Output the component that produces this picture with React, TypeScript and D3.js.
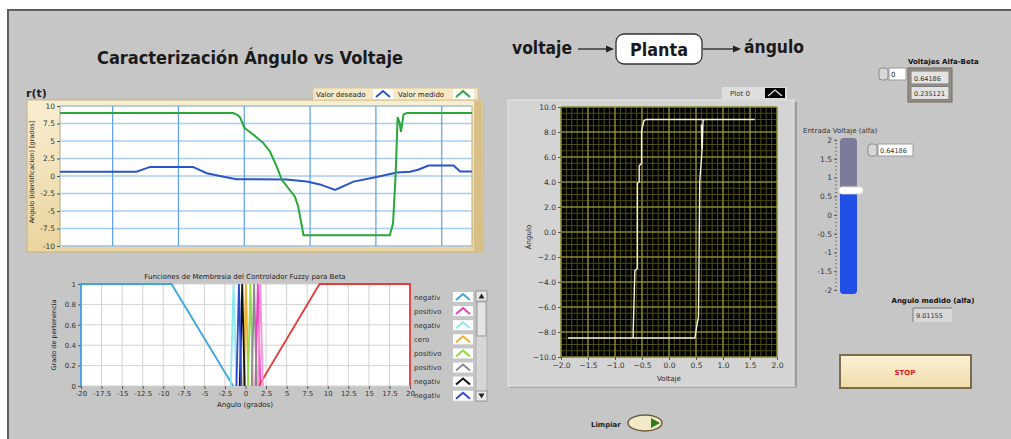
import React, { useEffect, useRef } from 'react';
import * as d3 from 'd3';

// r(t): angulo deseado y medido (eje x = muestra)
const deseadoT = [220, 336, 357, 422, 443, 463, 488, 564, 595, 615, 638, 666, 701, 732, 752, 764, 780, 818, 828, 846];
const deseadoY = [0.6, 0.6, 1.3, 1.3, 0.4, 0.0, -0.45, -0.5, -0.8, -1.2, -2.0, -0.8, -0.15, 0.5, 0.6, 0.9, 1.5, 1.5, 0.65, 0.65];
const medidoT = [220, 483, 490, 494, 500, 514, 529, 539, 549, 557, 565, 577, 582, 590, 721, 726, 730, 733, 736, 738, 742, 747, 846];
const medidoY = [9, 9, 8.7, 8.3, 6.9, 5.9, 4.7, 3.5, 1.4, -0.55, -1.5, -2.95, -4.4, -8.45, -8.45, -6.8, 0.3, 8.4, 7.6, 6.3, 8.8, 9, 9];
const rtTicks = [10, 7.5, 5, 2.5, 0, -2.5, -5, -7.5, -10];

// funciones de membresia del controlador fuzzy (beta)
const mfNombres = ['negativ', 'positivo', 'negativ', 'cero', 'positivo', 'positivo', 'negativ', 'negativ', 'positivo', 'positivo'];
const mfColores = ['#3ea6dc', '#ee3fc4', '#8ae8f0', '#f0b02c', '#92de3e', '#8a8a8a', '#121212', '#2c4ccc', '#e83a3a', '#ff8fd6'];
const mfX = [
  [-20, -20, -9, -1.5],
  [1.2, 1.5, 1.8],
  [-1.8, -1.45, -1.1],
  [-0.25, 0.05, 0.35],
  [0.3, 0.6, 0.9],
  [0.75, 1.05, 1.35],
  [-0.7, -0.4, -0.1],
  [-1.1, -0.8, -0.5],
  [1.6, 9, 20, 20],
  [1.5, 1.8, 2.1],
];
const mfY = [
  [0, 1, 1, 0],
  [0, 1, 0],
  [0, 1, 0],
  [0, 1, 0],
  [0, 1, 0],
  [0, 1, 0],
  [0, 1, 0],
  [0, 1, 0],
  [0, 1, 1, 0],
  [0, 1, 0],
];
const mfXTicks = [-20, -17.5, -15, -12.5, -10, -7.5, -5, -2.5, 0, 2.5, 5, 7.5, 10, 12.5, 15, 17.5, 20];
const mfYTicks = [0, 0.2, 0.4, 0.6, 0.8, 1];

// grafica XY: angulo vs voltaje (histeresis)
const voltaje = [-1.87, 0.48, 0.51, 0.546, 0.57, 0.61, 0.6, 0.615, 0.63, 0.66, 1.59, -0.42, -0.465, -0.508, -0.508, -0.552, -0.552, -0.585, -0.585, -0.632, -0.663, -0.663, -1.87];
const angulo = [-8.48, -8.48, -7.6, -6.8, 4.1, 6.4, 8.6, 6.6, 8.9, 9.0, 9.0, 9.0, 8.9, 8.1, 5.5, 5.3, 4.0, 3.9, -2.9, -3.1, -8.0, -8.48, -8.48];
const xyXTicks = [-2, -1.5, -1, -0.5, 0, 0.5, 1, 1.5, 2];
const xyYTicks = [-10, -8, -6, -4, -2, 0, 2, 4, 6, 8, 10];

// controles
const sliderTicks = [2, 1.5, 1, 0.5, 0, -0.5, -1, -1.5, -2];
const entradaVoltaje = 0.64186;
const voltajesAlfaBeta = ['0.64186', '0.235121'];
const anguloMedido = '9.01155';

const FONT = '"DejaVu Sans", Verdana, sans-serif';
const BOLD = '"DejaVu Sans Condensed", "DejaVu Sans", sans-serif';

function App() {
  const svgRef = useRef<SVGSVGElement>(null);

  useEffect(() => {
    const svg = d3.select(svgRef.current);
    svg.selectAll('*').remove();

    const txt = (x: number, y: number, s: string, size: number, o: any = {}) =>
      svg.append('text')
        .attr('x', x).attr('y', y)
        .attr('font-size', size)
        .attr('font-family', o.family || FONT)
        .attr('font-weight', o.weight || 'normal')
        .attr('text-anchor', o.anchor || 'start')
        .attr('fill', o.fill || '#222')
        .text(s);

    const styleAxis = (g: any, size = 7.5) => {
      g.select('.domain').remove();
      g.selectAll('text').attr('font-size', size).attr('font-family', FONT).attr('fill', '#333');
      g.selectAll('line').attr('stroke', '#555');
    };

    const caret = (cx: number, cy: number, color: string, w = 2) =>
      svg.append('path')
        .attr('d', `M${cx - 7},${cy + 3} L${cx},${cy - 3} L${cx + 7},${cy + 3}`)
        .attr('fill', 'none').attr('stroke', color).attr('stroke-width', w);

    const defs = svg.append('defs');
    const tan = defs.append('linearGradient').attr('id', 'tan').attr('x1', 0).attr('y1', 0).attr('x2', 0).attr('y2', 1);
    tan.append('stop').attr('offset', '0%').attr('stop-color', '#f8eed2');
    tan.append('stop').attr('offset', '100%').attr('stop-color', '#ead49e');
    const btn = defs.append('linearGradient').attr('id', 'btn').attr('x1', 0).attr('y1', 0).attr('x2', 0).attr('y2', 1);
    btn.append('stop').attr('offset', '0%').attr('stop-color', '#fbf1d4');
    btn.append('stop').attr('offset', '100%').attr('stop-color', '#efdcac');

    // fondo del panel
    svg.append('rect').attr('width', 1011).attr('height', 439).attr('fill', '#ffffff');
    svg.append('rect').attr('x', 8).attr('y', 10).attr('width', 1012).attr('height', 440)
      .attr('fill', '#c6c6c6').attr('stroke', '#5f5f5f').attr('stroke-width', 2);

    // titulo y diagrama
    txt(97, 64, 'Caracterización Ángulo vs Voltaje', 18, { family: BOLD, weight: 'bold', fill: '#1a1a1a' })
      .attr('textLength', 306).attr('lengthAdjust', 'spacingAndGlyphs');
    txt(512, 54, 'voltaje', 17, { family: BOLD, weight: 'bold', fill: '#1a1a1a' })
      .attr('textLength', 60).attr('lengthAdjust', 'spacingAndGlyphs');
    const arrow = (x1: number, x2: number, y: number) => {
      svg.append('line').attr('x1', x1).attr('x2', x2 - 6).attr('y1', y).attr('y2', y).attr('stroke', '#222').attr('stroke-width', 1.3);
      svg.append('path').attr('d', `M${x2},${y} L${x2 - 8},${y - 3.5} L${x2 - 8},${y + 3.5} Z`).attr('fill', '#222');
    };
    arrow(578, 614, 49);
    svg.append('rect').attr('x', 616).attr('y', 34).attr('width', 86).attr('height', 30).attr('rx', 8)
      .attr('fill', '#ffffff').attr('stroke', '#333').attr('stroke-width', 1.3);
    txt(659, 56, 'Planta', 17, { family: BOLD, weight: 'bold', anchor: 'middle', fill: '#1a1a1a' })
      .attr('textLength', 58).attr('lengthAdjust', 'spacingAndGlyphs');
    arrow(703, 741, 49);
    txt(744, 53, 'ángulo', 17, { family: BOLD, weight: 'bold', fill: '#1a1a1a' })
      .attr('textLength', 60).attr('lengthAdjust', 'spacingAndGlyphs');

    // ---- grafica r(t) ----
    const xRt = d3.scaleLinear().domain([220, 846]).range([60, 472]);
    const yRt = d3.scaleLinear().domain([-10, 10]).range([246, 106]);
    txt(26, 97, 'r(t)', 11, { weight: 'bold', fill: '#222' });
    svg.append('rect').attr('x', 27).attr('y', 100).attr('width', 456).attr('height', 152)
      .attr('fill', 'url(#tan)').attr('stroke', '#c9b27a');
    svg.append('rect').attr('x', 474).attr('y', 101).attr('width', 8).attr('height', 150).attr('fill', '#d8bf86');
    svg.append('rect').attr('x', 60).attr('y', 106).attr('width', 412).attr('height', 140)
      .attr('fill', '#ffffff').attr('stroke', '#b8a878');
    svg.append('g').selectAll('line').data(rtTicks).join('line')
      .attr('x1', 60).attr('x2', 472).attr('y1', d => yRt(d)).attr('y2', d => yRt(d))
      .attr('stroke', '#a9cdf2').attr('stroke-width', 1.5);
    svg.append('g').selectAll('line').data(xRt.ticks(6)).join('line')
      .attr('x1', d => xRt(d)).attr('x2', d => xRt(d)).attr('y1', 106).attr('y2', 246)
      .attr('stroke', '#5c9fe2').attr('stroke-width', 1.2);
    const ayRt = svg.append('g').attr('transform', 'translate(60,0)')
      .call(d3.axisLeft(yRt).tickValues(rtTicks).tickSize(3).tickPadding(2).tickFormat(d => String(d)));
    styleAxis(ayRt);
    txt(0, 0, 'Angulo (identificacion) [grados]', 6.5, { anchor: 'middle' })
      .attr('transform', 'translate(34,172) rotate(-90)');
    const lineRt = d3.line<[number, number]>().x(d => xRt(d[0])).y(d => yRt(d[1]));
    svg.append('path').datum(d3.zip(deseadoT, deseadoY) as [number, number][])
      .attr('d', lineRt).attr('fill', 'none').attr('stroke', '#2a55c8').attr('stroke-width', 2);
    svg.append('path').datum(d3.zip(medidoT, medidoY) as [number, number][])
      .attr('d', lineRt).attr('fill', 'none').attr('stroke', '#28a838').attr('stroke-width', 2);
    // leyenda
    svg.append('rect').attr('x', 313).attr('y', 88).attr('width', 165).attr('height', 12)
      .attr('fill', '#f4e8c6').attr('stroke', '#d8c89a');
    txt(316, 97, 'Valor deseado', 7, {});
    svg.append('rect').attr('x', 373).attr('y', 89).attr('width', 20).attr('height', 10).attr('fill', '#ffffff');
    caret(383, 94, '#2a55c8');
    txt(398, 97, 'Valor medido', 7, {});
    svg.append('rect').attr('x', 453).attr('y', 89).attr('width', 21).attr('height', 10).attr('fill', '#ffffff');
    caret(463, 94, '#28a838');

    // ---- funciones de membresia ----
    const xMf = d3.scaleLinear().domain([-20, 20]).range([81, 410]);
    const yMf = d3.scaleLinear().domain([0, 1]).range([386, 284]);
    txt(245, 279, 'Funciones de Membresia del Controlador Fuzzy para Beta', 7, { anchor: 'middle' });
    svg.append('rect').attr('x', 81).attr('y', 284).attr('width', 329).attr('height', 102).attr('fill', '#ffffff');
    svg.append('g').selectAll('line').data(mfXTicks).join('line')
      .attr('x1', d => xMf(d)).attr('x2', d => xMf(d)).attr('y1', 284).attr('y2', 386).attr('stroke', '#d2d2d2');
    svg.append('g').selectAll('line').data(mfYTicks).join('line')
      .attr('x1', 81).attr('x2', 410).attr('y1', d => yMf(d)).attr('y2', d => yMf(d)).attr('stroke', '#d2d2d2');
    const axMf = svg.append('g').attr('transform', 'translate(0,386)')
      .call(d3.axisBottom(xMf).tickValues(mfXTicks).tickSize(3).tickPadding(2).tickFormat(d => String(d)));
    styleAxis(axMf, 7);
    const ayMf = svg.append('g').attr('transform', 'translate(81,0)')
      .call(d3.axisLeft(yMf).tickValues(mfYTicks).tickSize(3).tickPadding(2).tickFormat(d => String(d)));
    styleAxis(ayMf, 7);
    txt(245, 407, 'Angulo (grados)', 7, { anchor: 'middle' });
    txt(0, 0, 'Grado de pertenencia', 6.5, { anchor: 'middle' }).attr('transform', 'translate(56,335) rotate(-90)');
    const lineMf = d3.line<[number, number]>().x(d => xMf(d[0])).y(d => yMf(d[1]));
    mfX.forEach((xs, i) => {
      svg.append('path').datum(d3.zip(xs, mfY[i]) as [number, number][])
        .attr('d', lineMf).attr('fill', 'none').attr('stroke', mfColores[i]).attr('stroke-width', 1.8);
    });
    // leyenda con barra de desplazamiento
    mfNombres.slice(0, 8).forEach((n, i) => {
      const cy = 297 + i * 14.1;
      txt(414, cy + 2.5, n, 7, { fill: '#333' });
      svg.append('rect').attr('x', 453).attr('y', cy - 5).attr('width', 20).attr('height', 10).attr('fill', '#ffffff');
      caret(463, cy, mfColores[i]);
    });
    svg.append('rect').attr('x', 476).attr('y', 291).attr('width', 11).attr('height', 110).attr('fill', '#d6d6d6').attr('stroke', '#b0b0b0');
    svg.append('rect').attr('x', 477).attr('y', 302).attr('width', 9).attr('height', 34).attr('fill', '#e4e4e4').attr('stroke', '#9a9a9a');
    svg.append('rect').attr('x', 476).attr('y', 291).attr('width', 11).attr('height', 10).attr('fill', '#e8e8e8').attr('stroke', '#9a9a9a');
    svg.append('path').attr('d', 'M478.5,298.5 L481.5,293.5 L484.5,298.5 Z').attr('fill', '#222');
    svg.append('rect').attr('x', 476).attr('y', 391).attr('width', 11).attr('height', 10).attr('fill', '#e8e8e8').attr('stroke', '#9a9a9a');
    svg.append('path').attr('d', 'M478.5,393.5 L481.5,398.5 L484.5,393.5 Z').attr('fill', '#222');

    // ---- grafica XY ----
    const xXy = d3.scaleLinear().domain([-2, 2]).range([561, 777]);
    const yXy = d3.scaleLinear().domain([-10, 10]).range([357, 107]);
    svg.append('rect').attr('x', 793).attr('y', 102).attr('width', 4).attr('height', 285).attr('fill', '#9c9c9c');
    svg.append('rect').attr('x', 510).attr('y', 385).attr('width', 287).attr('height', 3).attr('fill', '#a8a8a8');
    svg.append('rect').attr('x', 508).attr('y', 100).attr('width', 286).attr('height', 286)
      .attr('fill', '#d4d4d4').attr('stroke', '#e6e6e6');
    svg.append('rect').attr('x', 561).attr('y', 107).attr('width', 216).attr('height', 250).attr('fill', '#000000');
    svg.append('g').selectAll('line').data(xXy.ticks(40)).join('line')
      .attr('x1', d => xXy(d)).attr('x2', d => xXy(d)).attr('y1', 107).attr('y2', 357).attr('stroke', '#4e4e16');
    svg.append('g').selectAll('line').data(yXy.ticks(50)).join('line')
      .attr('x1', 561).attr('x2', 777).attr('y1', d => yXy(d)).attr('y2', d => yXy(d)).attr('stroke', '#4e4e16');
    svg.append('g').selectAll('line').data(xyXTicks).join('line')
      .attr('x1', d => xXy(d)).attr('x2', d => xXy(d)).attr('y1', 107).attr('y2', 357).attr('stroke', '#a8a834');
    svg.append('g').selectAll('line').data(xyYTicks).join('line')
      .attr('x1', 561).attr('x2', 777).attr('y1', d => yXy(d)).attr('y2', d => yXy(d)).attr('stroke', '#a8a834');
    const axXy = svg.append('g').attr('transform', 'translate(0,357)')
      .call(d3.axisBottom(xXy).tickValues(xyXTicks).tickSize(3).tickPadding(3).tickFormat(d3.format('.1f')));
    styleAxis(axXy);
    const ayXy = svg.append('g').attr('transform', 'translate(561,0)')
      .call(d3.axisLeft(yXy).tickValues(xyYTicks).tickSize(3).tickPadding(2).tickFormat(d3.format('.1f')));
    styleAxis(ayXy);
    txt(669, 381, 'Voltaje', 7, { anchor: 'middle' });
    txt(0, 0, 'Ángulo', 7, { anchor: 'middle' }).attr('transform', 'translate(531,237) rotate(-90)');
    const lineXy = d3.line<[number, number]>().x(d => xXy(d[0])).y(d => yXy(d[1]));
    svg.append('path').datum(d3.zip(voltaje, angulo) as [number, number][])
      .attr('d', lineXy).attr('fill', 'none').attr('stroke', '#f2f2dc').attr('stroke-width', 1.4);
    svg.append('rect').attr('x', 722).attr('y', 87).attr('width', 65).attr('height', 12).attr('fill', '#dedede');
    txt(730, 96, 'Plot 0', 7, { fill: '#333' });
    svg.append('rect').attr('x', 765).attr('y', 88).attr('width', 20).attr('height', 10).attr('fill', '#000000');
    caret(775, 93, '#e8e8e8', 1.3);

    // ---- array Voltajes Alfa-Beta ----
    txt(908, 64, 'Voltajes Alfa-Beta', 7, { weight: 'bold', fill: '#111' });
    svg.append('rect').attr('x', 879).attr('y', 68).attr('width', 9).attr('height', 12).attr('rx', 3)
      .attr('fill', '#d8d8d8').attr('stroke', '#8a8a8a');
    svg.append('rect').attr('x', 889).attr('y', 68).attr('width', 17).attr('height', 12).attr('fill', '#ffffff').attr('stroke', '#9a9a9a');
    txt(891, 77, '0', 7, {});
    svg.append('rect').attr('x', 908).attr('y', 68).attr('width', 44).attr('height', 34)
      .attr('fill', '#9a9288').attr('stroke', '#6e665c');
    voltajesAlfaBeta.forEach((v, i) => {
      svg.append('rect').attr('x', 911).attr('y', 71 + i * 15.5).attr('width', 38).attr('height', 13)
        .attr('fill', '#e2e2e2').attr('stroke', '#7a7a7a');
      txt(914, 80.5 + i * 15.5, v, 6.5, { fill: '#333' });
    });

    // ---- deslizador Entrada Voltaje (alfa) ----
    const ySl = d3.scaleLinear().domain([-2, 2]).range([290, 140]);
    txt(803, 133, 'Entrada Voltaje (alfa)', 7, { fill: '#333' });
    svg.append('rect').attr('x', 840).attr('y', 138).attr('width', 17).attr('height', 156).attr('rx', 4).attr('fill', '#7c7c9a');
    svg.append('rect').attr('x', 840).attr('y', ySl(entradaVoltaje)).attr('width', 17).attr('height', 294 - ySl(entradaVoltaje))
      .attr('rx', 4).attr('fill', '#1f4fe6');
    svg.append('rect').attr('x', 839).attr('y', ySl(entradaVoltaje) - 4).attr('width', 24).attr('height', 7).attr('rx', 3)
      .attr('fill', '#ffffff').attr('stroke', '#dcdcdc');
    const aySl = svg.append('g').attr('transform', 'translate(837,0)')
      .call(d3.axisLeft(ySl).tickValues(sliderTicks).tickSize(3).tickPadding(2).tickFormat(d => String(d)));
    styleAxis(aySl);
    svg.append('g').selectAll('line').data(ySl.ticks(40)).join('line')
      .attr('x1', 835).attr('x2', 837).attr('y1', d => ySl(d)).attr('y2', d => ySl(d)).attr('stroke', '#777');
    svg.append('rect').attr('x', 868).attr('y', 144).attr('width', 9).attr('height', 12).attr('rx', 3)
      .attr('fill', '#d8d8d8').attr('stroke', '#8a8a8a');
    svg.append('rect').attr('x', 878).attr('y', 144).attr('width', 35).attr('height', 12).attr('fill', '#ffffff').attr('stroke', '#9a9a9a');
    txt(880, 153, String(entradaVoltaje), 6.5, { fill: '#333' });

    // ---- indicador Angulo medido ----
    txt(933, 303, 'Angulo medido (alfa)', 7, { weight: 'bold', anchor: 'middle', fill: '#111' });
    svg.append('rect').attr('x', 913).attr('y', 308).attr('width', 39).attr('height', 14).attr('fill', '#d8d8d8');
    svg.append('path').attr('d', 'M913,322 L913,308 L952,308').attr('fill', 'none').attr('stroke', '#7a7a7a');
    txt(916, 318, anguloMedido, 6.5, { fill: '#333' });

    // ---- boton STOP ----
    svg.append('rect').attr('x', 840).attr('y', 355).attr('width', 131).attr('height', 33)
      .attr('fill', 'url(#btn)').attr('stroke', '#7d6c4c').attr('stroke-width', 2);
    txt(905, 375, 'STOP', 7, { weight: 'bold', anchor: 'middle', fill: '#e02020' });

    // ---- boton Limpiar ----
    txt(591, 427, 'Limpiar', 7, { weight: 'bold', fill: '#222' });
    svg.append('ellipse').attr('cx', 645).attr('cy', 423).attr('rx', 17).attr('ry', 8)
      .attr('fill', '#f2eac6').attr('stroke', '#6a6040').attr('stroke-width', 1.5);
    svg.append('path').attr('d', 'M651,418 L660,423 L651,428 Z').attr('fill', '#2e7a1e');
  }, []);

  return (
    <svg ref={svgRef} width={1011} height={439}
      style={{ position: 'absolute', left: 0, top: 0, display: 'block' }} />
  );
}

export default App;
